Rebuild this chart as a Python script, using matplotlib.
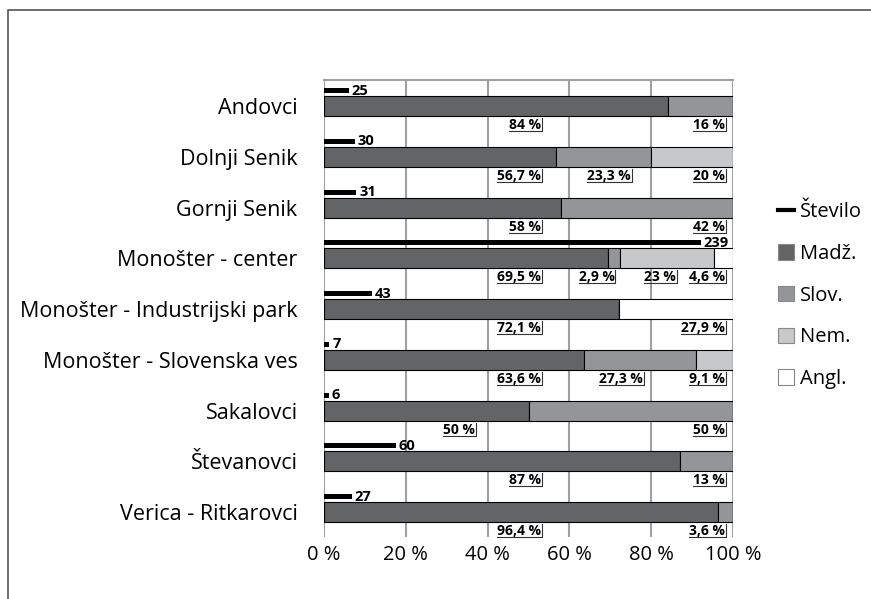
import matplotlib
matplotlib.use("Agg")
import matplotlib.pyplot as plt
from matplotlib.lines import Line2D
from matplotlib.patches import Patch, Rectangle

plt.rcParams['font.family'] = ['Open Sans', 'DejaVu Sans']

# data
categories = ['Andovci', 'Dolnji Senik', 'Gornji Senik', 'Monošter - center',
              'Monošter - Industrijski park', 'Monošter - Slovenska ves',
              'Sakalovci', 'Števanovci', 'Verica - Ritkarovci']
counts = [25, 30, 31, 239, 43, 7, 6, 60, 27]
madz = [84, 56.7, 58, 69.5, 72.1, 63.6, 50, 87, 96.4]
slov = [16, 23.3, 42, 2.9, 0, 27.3, 50, 13, 3.6]
nem = [0, 20, 0, 23, 0, 9.1, 0, 0, 0]
angl = [0, 0, 0, 4.6, 27.9, 0, 0, 0, 0]
series_names = ['Madž.', 'Slov.', 'Nem.', 'Angl.']
xticks = [0, 20, 40, 60, 80, 100]

# where the percentage labels sit (right edge, in %)
label_pos = [[53, 98], [53, 75, 98], [53, 98], [53, 71, 86, 98], [53, 98],
             [53, 78, 98], [37, 98], [53, 98], [53, 98]]

colors = ['#636466', '#939598', '#c7c8ca', '#ffffff']

W, H = 871, 599
fig = plt.figure(figsize=(W / 100, H / 100), dpi=100)
ax = fig.add_axes([324 / W, 1 - 537 / H, 409 / W, 457 / H])

n = len(categories)
band = 50.75
bar_c = [i + 26 / band for i in range(n)]
cnt_c = [i + 10.5 / band for i in range(n)]

series = [madz, slov, nem, angl]
left = [0] * n
for vals, col, name in zip(series, colors, series_names):
    ax.barh(bar_c, vals, left=left, height=20 / band, color=col,
            edgecolor='black', linewidth=0.8, zorder=3, label=name)
    left = [l + v for l, v in zip(left, vals)]

ax.set_xlim(0, 100)
ax.set_ylim(n, 0)
ax.set_xticks(xticks)
ax.set_xticklabels([f'{t} %' for t in xticks], fontsize=14.5)
ax.set_yticks(bar_c)
ax.set_yticklabels(categories, fontsize=15.5)
ax.tick_params(axis='y', length=0, pad=19)
ax.tick_params(axis='x', length=0, pad=6)
ax.grid(axis='x', color='#a0a0a0', linewidth=1.5, zorder=0)
ax.set_axisbelow(True)
for s in ['left', 'right', 'bottom']:
    ax.spines[s].set_visible(False)
ax.spines['top'].set_color('#a0a0a0')
ax.spines['top'].set_linewidth(1.5)

# percentage labels
pct_texts = []
for i in range(n):
    vals = [s[i] for s in series if s[i] > 0]
    for v, xp in zip(vals, label_pos[i]):
        txt = f'{v:g} %'.replace('.', ',')
        t = ax.text(xp, i + 38 / band, txt, ha='right', va='top',
                    fontsize=10, fontweight='bold', zorder=5)
        pct_texts.append(t)

# count bars on their own (slightly stretched) scale
ax2 = ax.twiny()
ax2.set_xscale('function', functions=(lambda x: x ** 1.2, lambda x: x ** (1 / 1.2)))
ax2.set_xlim(0, 256)
ax2.set_ylim(n, 0)
ax2.barh(cnt_c, counts, height=5 / band, color='black', zorder=4)
for i, c in enumerate(counts):
    ax2.annotate(str(c), (c, cnt_c[i]), xytext=(2, 0), textcoords='offset points',
                 ha='left', va='center', fontsize=10.5, fontweight='bold')
ax2.set_xticks([])
ax2.minorticks_off()
for s in ax2.spines.values():
    s.set_visible(False)

# legend
handles = [Line2D([0], [0], color='black', lw=3)]
handles += [Patch(facecolor=c, edgecolor='#888888', linewidth=0.8) for c in colors]
fig.legend(handles, ['Število'] + series_names, loc='upper left',
           bbox_to_anchor=(760 / W, 1 - 184 / H), frameon=False, fontsize=14.5,
           handlelength=0.8, handleheight=0.8, handletextpad=0.3,
           labelspacing=1.08)

# outer frame
fig.patches.append(Rectangle((8 / W, -0.1), 2, 1 - 10 / H + 0.1,
                             transform=fig.transFigure, fill=False,
                             edgecolor='#555555', linewidth=1.2))

# underline + right stroke of the percentage labels
fig.canvas.draw()
inv = fig.transFigure.inverted()
for t in pct_texts:
    bb = t.get_window_extent()
    x0, y0 = inv.transform((bb.x0, bb.y0 + 1))
    x1, y1 = inv.transform((bb.x1 + 1, bb.y1))
    fig.add_artist(Line2D([x0, x1, x1], [y0, y0, y1], color='#333333',
                          lw=0.8, transform=fig.transFigure))

fig.savefig('out.png', dpi=100)
